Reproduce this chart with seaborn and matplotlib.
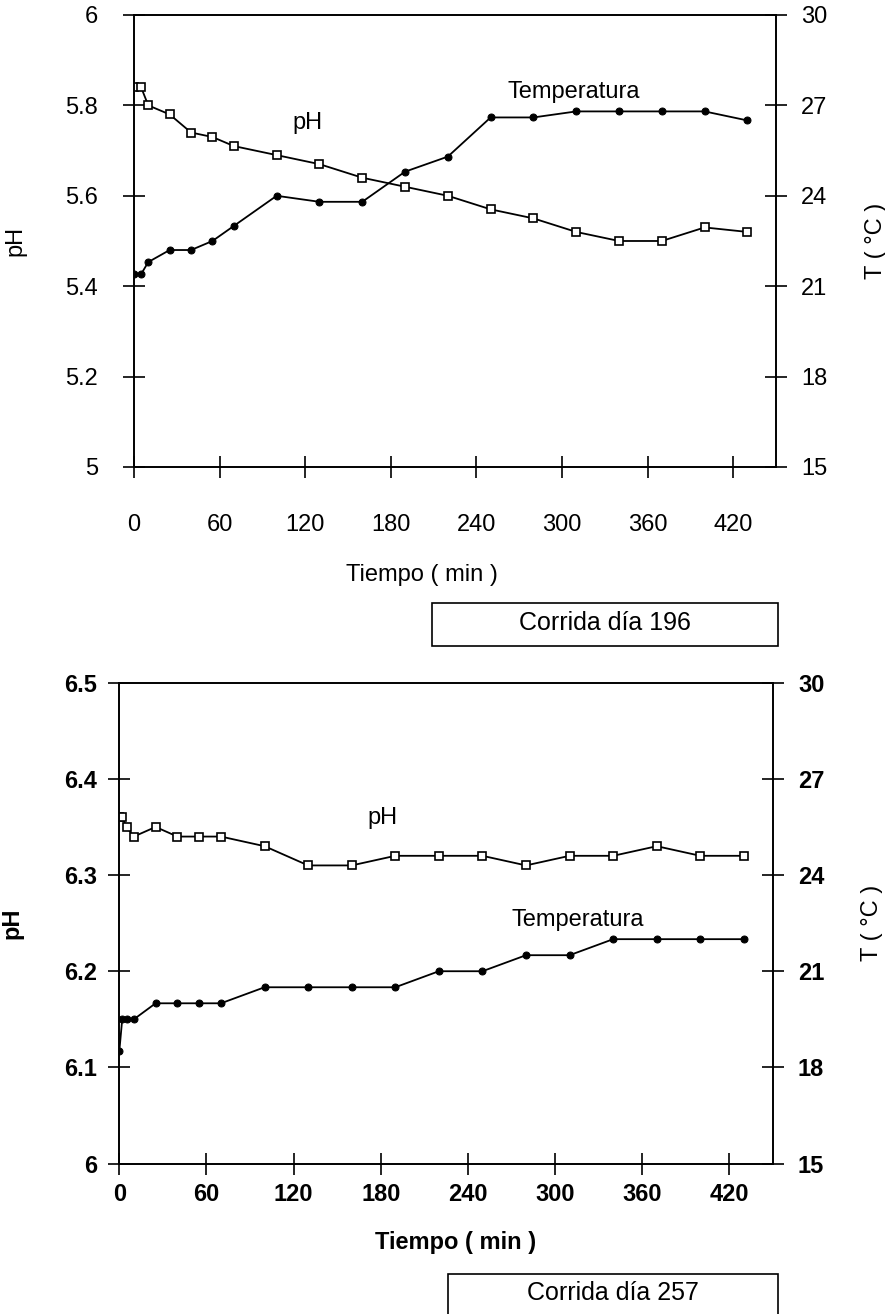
import matplotlib
matplotlib.use("Agg")
import matplotlib.pyplot as plt
import seaborn as sns
import pandas as pd
from matplotlib.patches import Rectangle

# Corrida dia 196
tiempo_196 = [0, 5, 10, 25, 40, 55, 70, 100, 130, 160, 190, 220, 250, 280, 310, 340, 370, 400, 430]
ph_196 = [5.84, 5.84, 5.80, 5.78, 5.74, 5.73, 5.71, 5.69, 5.67, 5.64, 5.62, 5.60, 5.57, 5.55, 5.52, 5.50, 5.50, 5.53, 5.52]
temp_196 = [21.4, 21.4, 21.8, 22.2, 22.2, 22.5, 23.0, 24.0, 23.8, 23.8, 24.8, 25.3, 26.6, 26.6, 26.8, 26.8, 26.8, 26.8, 26.5]

# Corrida dia 257
tiempo_257 = [0, 2, 5, 10, 25, 40, 55, 70, 100, 130, 160, 190, 220, 250, 280, 310, 340, 370, 400, 430]
ph_257 = [6.36, 6.36, 6.35, 6.34, 6.35, 6.34, 6.34, 6.34, 6.33, 6.31, 6.31, 6.32, 6.32, 6.32, 6.31, 6.32, 6.32, 6.33, 6.32, 6.32]
temp_257 = [18.5, 19.5, 19.5, 19.5, 20.0, 20.0, 20.0, 20.0, 20.5, 20.5, 20.5, 20.5, 21.0, 21.0, 21.5, 21.5, 22.0, 22.0, 22.0, 22.0]

x_ticks = [0, 60, 120, 180, 240, 300, 360, 420]
ph_ticks_196 = [5, 5.2, 5.4, 5.6, 5.8, 6]
ph_labels_196 = ["5", "5.2", "5.4", "5.6", "5.8", "6"]
ph_ticks_257 = [6, 6.1, 6.2, 6.3, 6.4, 6.5]
ph_labels_257 = ["6", "6.1", "6.2", "6.3", "6.4", "6.5"]
t_ticks = [15, 18, 21, 24, 27, 30]

sns.set_style("ticks")
plt.rcParams['font.family'] = ['Liberation Sans', 'DejaVu Sans']
plt.rcParams['text.color'] = 'black'
plt.rcParams['axes.labelcolor'] = 'black'

FS = 17

fig = plt.figure(figsize=(8.85, 13.14), dpi=100)

df196 = pd.DataFrame({'t': tiempo_196, 'ph': ph_196, 'temp': temp_196})
df257 = pd.DataFrame({'t': tiempo_257, 'ph': ph_257, 'temp': temp_257})


def panel(rect, df, ph_lim, ph_ticks, ph_labels, weight, xpad, ypad):
    ax = fig.add_axes(rect)
    ax2 = ax.twinx()
    sns.lineplot(data=df, x='t', y='ph', ax=ax, color='black', linewidth=1.3,
                 marker='s', markersize=6, markerfacecolor='white',
                 markeredgecolor='black', markeredgewidth=1.2)
    sns.lineplot(data=df, x='t', y='temp', ax=ax2, color='black', linewidth=1.3,
                 marker='o', markersize=5, markerfacecolor='black',
                 markeredgecolor='black')
    ax.set_xlim(0, 450)
    ax.set_ylim(*ph_lim)
    ax2.set_ylim(15, 30)
    ax.set_xticks(x_ticks)
    ax.set_xticklabels([str(v) for v in x_ticks], fontweight=weight)
    ax.set_yticks(ph_ticks)
    ax.set_yticklabels(ph_labels, fontweight=weight)
    ax2.set_yticks(t_ticks)
    ax2.set_yticklabels([str(v) for v in t_ticks], fontweight=weight)
    ax.tick_params(axis='x', direction='inout', length=16, width=1.2, pad=xpad, labelsize=FS, colors='black')
    ax.tick_params(axis='y', direction='inout', length=16, width=1.2, pad=ypad, labelsize=FS, colors='black')
    ax2.tick_params(axis='y', direction='inout', length=16, width=1.2, pad=10, labelsize=FS, colors='black')
    for a in (ax, ax2):
        for s in a.spines.values():
            s.set_visible(True)
            s.set_color('black')
            s.set_linewidth(1.2)
    ax.set_xlabel('')
    ax.set_ylabel('')
    ax2.set_ylabel('')
    return ax, ax2


# Panel superior
ax1, ax1b = panel([0.1514, 0.6446, 0.7254, 0.344], df196, (5, 6),
                  ph_ticks_196, ph_labels_196, 'normal', 26, 18)
ax1.set_xlabel('Tiempo ( min )', fontsize=FS)
ax1.xaxis.set_label_coords(0.449, -0.215)
ax1.set_ylabel('pH', fontsize=FS)
ax1.yaxis.set_label_coords(-0.168, 0.5)
ax1b.set_ylabel('T ( °C )', fontsize=FS)
ax1b.yaxis.set_label_coords(1.138, 0.5)
ax1.text(111, 5.761, 'pH', fontsize=FS, va='center', ha='left')
ax1b.text(262, 27.45, 'Temperatura', fontsize=FS, va='center', ha='left')

# Panel inferior
ax2, ax2b = panel([0.1348, 0.11446, 0.7386, 0.366], df257, (6, 6.5),
                  ph_ticks_257, ph_labels_257, 'bold', 6, 8)
ax2.set_xlabel('Tiempo ( min )', fontsize=FS, fontweight='bold')
ax2.xaxis.set_label_coords(0.514, -0.14)
ax2.set_ylabel('pH', fontsize=FS, fontweight='bold')
ax2.yaxis.set_label_coords(-0.147, 0.5)
ax2b.set_ylabel('T ( °C )', fontsize=FS)
ax2b.yaxis.set_label_coords(1.135, 0.5)
ax2.text(171, 6.3595, 'pH', fontsize=FS, va='center', ha='left')
ax2b.text(270, 22.6, 'Temperatura', fontsize=FS, va='center', ha='left')

# Cuadros de texto
fig.patches.append(Rectangle((0.488, 0.5084), 0.391, 0.0327, transform=fig.transFigure,
                             fill=False, edgecolor='black', linewidth=1.2))
fig.text(0.6836, 0.5259, 'Corrida día 196', fontsize=18, ha='center', va='center')
fig.patches.append(Rectangle((0.5062, -0.02), 0.3729, 0.05044, transform=fig.transFigure,
                             fill=False, edgecolor='black', linewidth=1.2))
fig.text(0.6927, 0.016, 'Corrida día 257', fontsize=18, ha='center', va='center')

fig.savefig('out.png', dpi=100, facecolor='white')
